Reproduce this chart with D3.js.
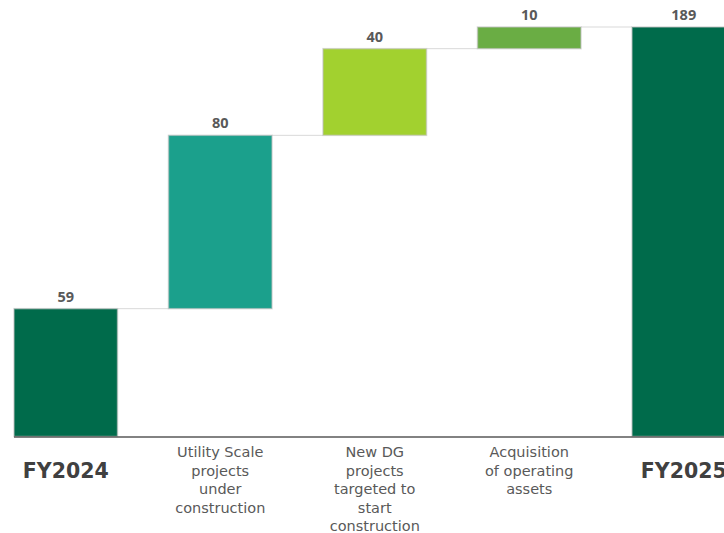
<!DOCTYPE html>
<html><head><meta charset="utf-8">
<script src="https://cdn.jsdelivr.net/npm/d3@7"></script>
<style>html,body{margin:0;padding:0;background:#fff;overflow:hidden}</style>
</head><body>
<script>
const categories = ["FY2024", "Utility Scale projects under construction", "New DG projects targeted to start construction", "Acquisition of operating assets", "FY2025"];
const labelLines = [["FY2024"], ["Utility Scale", "projects", "under", "construction"], ["New DG", "projects", "targeted to", "start", "construction"], ["Acquisition", "of operating", "assets"], ["FY2025"]];
const values = [59, 80, 40, 10, 189];
const kinds = ["total", "delta", "delta", "delta", "total"];
const colors = ["#006b4b", "#1ba08c", "#a2d12f", "#6aad44", "#006b4b"];

const W = 724, H = 533;
const svg = d3.select("body").append("svg").attr("width", W).attr("height", H);

const x = d3.scaleBand().domain(categories).range([14, 735.5]).paddingInner(0.33).paddingOuter(0);
const y = d3.scaleLinear().domain([0, 189]).range([436.5, 27]);

let run = 0;
const segs = categories.map((c, i) => {
  let lo, hi;
  if (kinds[i] === "total") { lo = 0; hi = values[i]; run = values[i]; }
  else { lo = run; hi = run + values[i]; run = hi; }
  return { c, lo, hi, v: values[i], color: colors[i], i };
});

for (let i = 0; i < segs.length - 1; i++) {
  const yy = y(segs[i].hi);
  svg.append("line")
    .attr("x1", x(segs[i].c) + x.bandwidth()).attr("x2", x(segs[i + 1].c))
    .attr("y1", yy).attr("y2", yy)
    .attr("stroke", "#d9d9d9").attr("stroke-width", 1);
}

svg.selectAll("rect.bar").data(segs).enter().append("rect")
  .attr("class", "bar")
  .attr("x", d => x(d.c))
  .attr("width", x.bandwidth())
  .attr("y", d => y(d.hi))
  .attr("height", d => y(d.lo) - y(d.hi))
  .attr("fill", d => d.color)
  .attr("stroke", "#bfbfbf").attr("stroke-opacity", 0.6).attr("stroke-width", 1.5);

svg.selectAll("text.val").data(segs).enter().append("text")
  .attr("class", "val")
  .attr("x", d => x(d.c) + x.bandwidth() / 2)
  .attr("y", d => y(d.hi) - 7)
  .attr("text-anchor", "middle")
  .attr("font-family", "Open Sans, sans-serif")
  .attr("font-weight", "bold").attr("font-size", 14.5)
  .attr("fill", "#595959")
  .text(d => d.v);

svg.append("line").attr("x1", 14).attr("x2", W).attr("y1", 437).attr("y2", 437)
  .attr("stroke", "#595959").attr("stroke-width", 1.5);

segs.forEach((d, i) => {
  const cx = x(d.c) + x.bandwidth() / 2;
  if (kinds[i] === "total") {
    svg.append("text").attr("x", cx).attr("y", 478)
      .attr("text-anchor", "middle")
      .attr("font-family", "DejaVu Sans, sans-serif")
      .attr("font-weight", "bold").attr("font-size", 20.5)
      .attr("fill", "#404040")
      .text(labelLines[i][0]);
  } else {
    const t = svg.append("text").attr("text-anchor", "middle")
      .attr("font-family", "DejaVu Sans, sans-serif")
      .attr("font-size", 14.5).attr("fill", "#595959");
    labelLines[i].forEach((ln, k) => {
      t.append("tspan").attr("x", cx).attr("y", 457 + k * 18.5).text(ln);
    });
  }
});
</script>
</body></html>
